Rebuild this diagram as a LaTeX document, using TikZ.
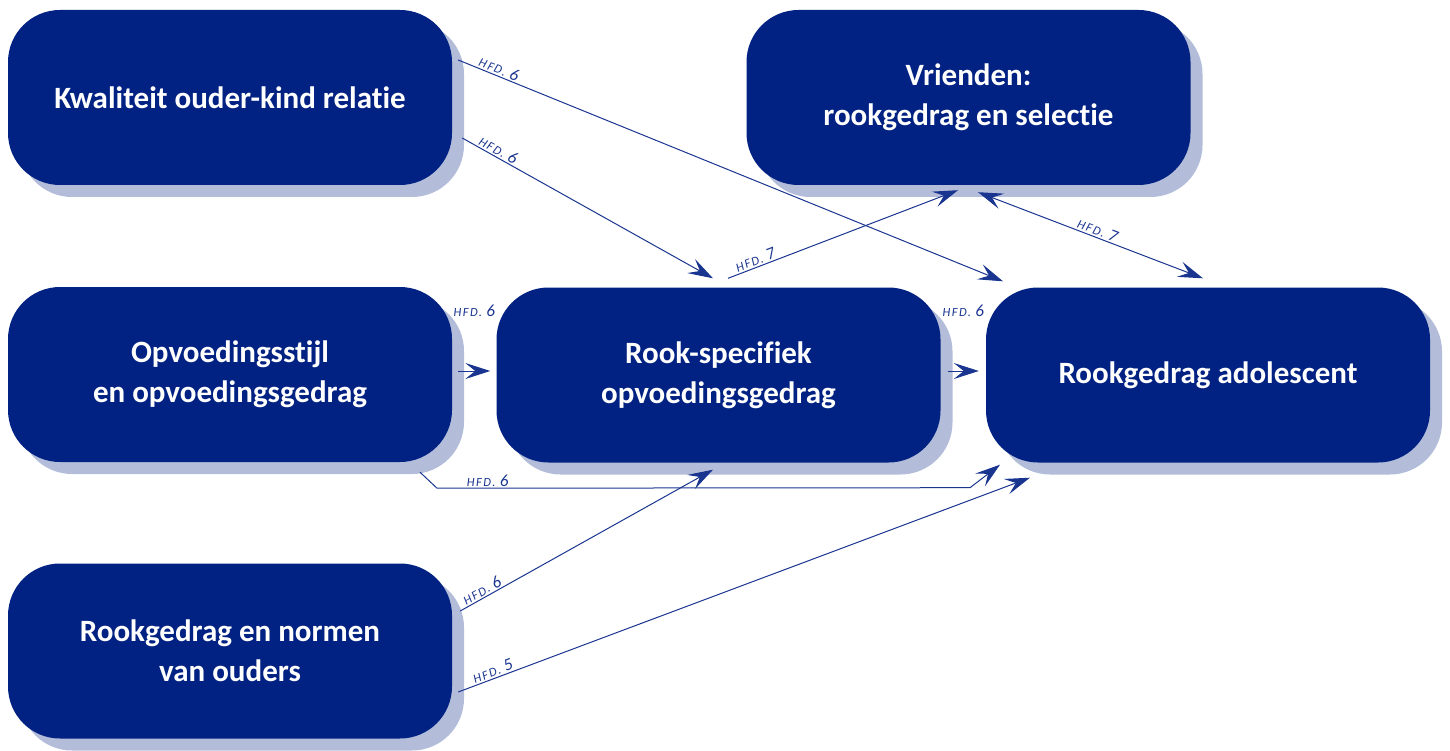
\documentclass[tikz,border=0pt]{standalone}
\usepackage{fontspec}
\setmainfont{Carlito}[Ligatures=NoCommon]
\newfontfamily\hfdfont{Carlito}[LetterSpace=12,Ligatures=NoCommon]
\usetikzlibrary{arrows.meta,shadows,calc}
\definecolor{boxblue}{HTML}{012282}
\definecolor{shadowblue}{HTML}{B3BDDA}
\definecolor{lineblue}{HTML}{1A3590}
\newcommand\hfdtext[1]{{\fontsize{12.5}{13}\selectfont HFD.\ }{\fontsize{17}{17}\selectfont #1}}
\begin{document}
\begin{tikzpicture}[x=1pt,y=-1pt,
 box/.style={rounded corners=52pt, fill=boxblue, draw=none, minimum width=444pt, minimum height=175pt, text=white,
   font=\fontsize{31}{40}\selectfont\bfseries, align=center,
   drop shadow={shadow xshift=12pt, shadow yshift=-12pt, fill=shadowblue, opacity=1}},
 tip/.style={Stealth[length=25pt,width=16pt,inset=10pt]},
 conn/.style={draw=lineblue, line width=1pt, -{Stealth[length=25pt,width=16pt,inset=10pt]}},
 biconn/.style={draw=lineblue, line width=1pt, {Stealth[length=25pt,width=16pt,inset=10pt]}-{Stealth[length=25pt,width=16pt,inset=10pt]}},
 hfd/.style={text=lineblue, font=\hfdfont\itshape, inner sep=1.5pt}
]
\useasboundingbox (0,0) rectangle (1450,751);

\node[box] (k) at (230,97.5) {Kwaliteit ouder-kind relatie};
\node[box] (v) at (968.5,97.5) {Vrienden:\\rookgedrag en selectie};
\node[box] (o) at (230,374.5) {Opvoedingsstijl\\en opvoedingsgedrag};
\node[box] (r) at (718.5,375) {Rook-specifiek\\opvoedingsgedrag};
\node[box] (a) at (1208,375) {Rookgedrag adolescent};
\node[box] (n) at (230,651) {Rookgedrag en normen\\van ouders};

% Kwaliteit -> adolescent
\draw[conn] ($(k.east)+(6,-37.5)$) -- node[hfd, sloped, above, pos=0.07] {\hfdtext{6}} ($(a.north)+(-205,-6)$);
% Kwaliteit -> rook-specifiek
\draw[conn] ($(k.east)+(10,40.5)$) -- node[hfd, sloped, above, pos=0.13] {\hfdtext{6}} ($(r.north)+(-5.5,-9)$);
% rook-specifiek -> vrienden
\draw[conn] ($(r.north)+(9.5,-9)$) -- node[hfd, sloped, above, pos=0.13] {\hfdtext{7}} ($(v.south)+(-10.5,5)$);
% vrienden <-> adolescent
\draw[biconn] ($(v.south)+(9.5,7)$) -- node[hfd, sloped, above, pos=0.52] {\hfdtext{7}} ($(a.north)+(-5,-9)$);
% opvoedingsstijl -> rook-specifiek
\draw[conn] ($(o.east)+(6,-3.5)$) -- node[hfd, midway, yshift=60pt] {\hfdtext{6}} ($(r.west)+(-6,-4)$);
% rook-specifiek -> adolescent
\draw[conn] ($(r.east)+(7,-4)$) -- node[hfd, midway, yshift=60pt] {\hfdtext{6}} ($(a.west)+(-7,-4)$);
% opvoedingsstijl -> adolescent
\draw[conn] ($(o.south)+(190,10)$) -- ($(o.south)+(207,26)$) -- node[hfd, above, pos=0.095] {\hfdtext{6}} ($(a.south)+(-238,25)$) -- ($(a.south)+(-208,2)$);
% normen -> rook-specifiek
\draw[conn] ($(n.east)+(8,-40)$) -- node[hfd, sloped, above, pos=0.1] {\hfdtext{6}} ($(r.south)+(-5.5,7)$);
% normen -> adolescent
\draw[conn] ($(n.east)+(6,41)$) -- node[hfd, sloped, above, pos=0.065] {\hfdtext{5}} ($(a.south)+(-178,15)$);
\end{tikzpicture}
\end{document}
